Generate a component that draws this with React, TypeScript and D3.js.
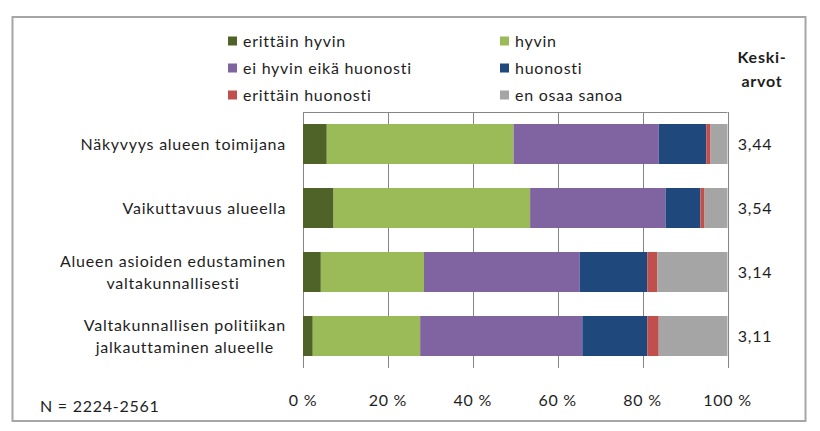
import React from "react";
import * as d3 from "d3";

const categories: string[][] = [
  ["Näkyvyys alueen toimijana"],
  ["Vaikuttavuus alueella"],
  ["Alueen asioiden edustaminen", "valtakunnallisesti"],
  ["Valtakunnallisen politiikan", "jalkauttaminen alueelle"],
];
const seriesNames = [
  "erittäin hyvin",
  "hyvin",
  "ei hyvin eikä huonosti",
  "huonosti",
  "erittäin huonosti",
  "en osaa sanoa",
];
const seriesColors = ["#4F6228", "#9BBB59", "#8064A2", "#1F497D", "#C0504D", "#A5A5A5"];
const erittainHyvin = [5.6, 7.2, 4.2, 2.3];
const hyvin = [44.0, 46.3, 24.3, 25.3];
const eiHyvinEikaHuonosti = [34.2, 31.9, 36.7, 38.2];
const huonosti = [11.2, 8.2, 15.9, 15.3];
const erittainHuonosti = [1.0, 1.0, 2.4, 2.7];
const enOsaaSanoa = [4.0, 5.4, 16.5, 16.2];
const means = ["3,44", "3,54", "3,14", "3,11"];
const xTicks = [0, 20, 40, 60, 80, 100];
const noteText = "N = 2224-2561";

const seriesValues = [erittainHyvin, hyvin, eiHyvinEikaHuonosti, huonosti, erittainHuonosti, enOsaaSanoa];

const FONT = "Lato";
const FS = 16;
const LS = 0.75;

function measure(s: string): number {
  const c = document.createElement("canvas").getContext("2d");
  if (!c) return s.length * 8;
  c.font = `${FS}px ${FONT}`;
  return c.measureText(s).width + LS * s.length;
}

export default function App() {
  const W = 820;
  const H = 431;
  const font = "Lato, 'Open Sans', sans-serif";
  const textColor = "#1e1e1e";

  const keys = categories.map((c) => c.join(" "));
  const rows = keys.map((k, i) => {
    const r: any = { key: k };
    seriesNames.forEach((s, j) => (r[s] = seriesValues[j][i]));
    return r;
  });
  const stack = d3.stack<any>().keys(seriesNames)(rows);

  const x = d3.scaleLinear().domain([0, 100]).range([303, 727.5]);
  const y = d3.scaleBand<string>().domain(keys).range([112, 368]).paddingInner(0.375).paddingOuter(0.1875);

  const legendCols = [228, 500];
  const legendRows = [41, 68, 95];

  return (
    <svg
      width={W}
      height={H}
      style={{ position: "absolute", left: 0, top: 0, background: "#fff" }}
      fontFamily={font}
      fontSize={FS}
      letterSpacing={LS}
    >
      <rect x={0} y={0} width={W} height={H} fill="#fff" />
      <rect x={12.5} y={17} width={793} height={404} fill="#fff" stroke="#a6a6a6" strokeWidth={2} />

      {/* legend */}
      {seriesNames.map((s, i) => {
        const cx = legendCols[i % 2];
        const cy = legendRows[Math.floor(i / 2)];
        return (
          <g key={s}>
            <rect x={cx} y={cy - 4.5} width={9} height={9} fill={seriesColors[i]} />
            <text x={cx + 15} y={cy + 5.5} fill={textColor}>
              {s}
            </text>
          </g>
        );
      })}

      {/* Keski-arvot header */}
      <text x={762} y={63} fontWeight="bold" textAnchor="middle" fill={textColor}>
        Keski-
      </text>
      <text x={762} y={87} fontWeight="bold" textAnchor="middle" fill={textColor}>
        arvot
      </text>

      {/* gridlines */}
      <line x1={x(0)} x2={x(100)} y1={112.5} y2={112.5} stroke="#868686" strokeWidth={1} />
      {xTicks.map((t) => (
        <line
          key={t}
          x1={Math.round(x(t)) + 0.5}
          x2={Math.round(x(t)) + 0.5}
          y1={112}
          y2={368}
          stroke="#868686"
          strokeWidth={1}
        />
      ))}

      {/* bars */}
      {stack.map((layer, li) => (
        <g key={layer.key} fill={seriesColors[li]}>
          {layer.map((d: any, i: number) => (
            <rect
              key={i}
              x={x(d[0])}
              width={x(d[1]) - x(d[0])}
              y={y(keys[i])}
              height={y.bandwidth()}
            />
          ))}
        </g>
      ))}

      {/* category labels */}
      {categories.map((lines, i) => {
        const cy = (y(keys[i]) as number) + y.bandwidth() / 2;
        const lh = 22;
        const y0 = cy - ((lines.length - 1) * lh) / 2;
        const maxW = Math.max(...lines.map(measure));
        const centerX = 286 - maxW / 2;
        return (
          <text key={i} x={centerX} y={0} fill={textColor} textAnchor="middle">
            {lines.map((l, k) => (
              <tspan key={k} x={centerX} y={y0 + k * lh + 5.5}>
                {l}
              </tspan>
            ))}
          </text>
        );
      })}

      {/* means */}
      {means.map((m, i) => {
        const cy = (y(keys[i]) as number) + y.bandwidth() / 2;
        return (
          <text key={i} x={755} y={cy + 5.5} textAnchor="middle" fill={textColor}>
            {m}
          </text>
        );
      })}

      {/* x tick labels */}
      {xTicks.map((t) => (
        <text key={t} x={x(t)} y={406} textAnchor="middle" fill={textColor}>
          {`${t} %`}
        </text>
      ))}

      <text x={40} y={412} fill={textColor}>
        {noteText}
      </text>
    </svg>
  );
}
